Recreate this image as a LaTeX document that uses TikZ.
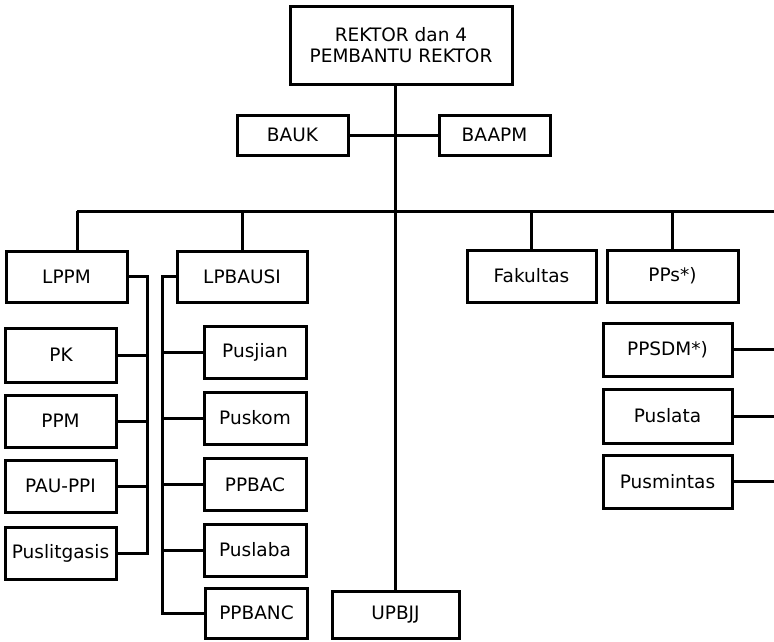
\documentclass[tikz,border=0pt]{standalone}
\usepackage{fontspec}
\setmainfont{DejaVu Sans}
\usepackage{tikz}
\usetikzlibrary{positioning,calc}

\begin{document}
\begin{tikzpicture}[x=1pt, y=-1pt, font=\fontsize{18.5}{21.5}\selectfont,
  line width=3pt,
  unit/.style={draw=black, fill=white, align=center, inner sep=2pt,
               minimum width=#1},
  unit/.default=110pt,
  row/.style={unit=111pt, minimum height=52pt},
  sub/.style={unit=102pt, minimum height=52pt}]
\useasboundingbox (0,0) rectangle (774,641);
% top
\node[unit=222pt, minimum height=78pt] (rektor) at (401,45) {REKTOR dan 4\\PEMBANTU REKTOR};
\node[unit=111pt, minimum height=40pt] (bauk) at (292.5,135) {BAUK};
\node[unit=111pt, minimum height=40pt] (baapm) at (494.5,135) {BAAPM};
% second level
\node[unit=121pt, minimum height=51pt] (lppm) at (66.5,276.5) {LPPM};
\node[unit=130pt, minimum height=51pt] (lpbausi) at (242,276.5) {LPBAUSI};
\node[unit=129pt, minimum height=52pt] (fakultas) at (531.5,276) {Fakultas};
\node[unit=131pt, minimum height=52pt] (pps) at (672.5,276) {PPs*)};
\node[unit=127pt, minimum height=47pt] (upbjj) at (395.5,614.5) {UPBJJ};
% under LPPM
\node[row, minimum height=54pt] (pk) at (61,355) {PK};
\node[row] (ppm) at (60.5,421) {PPM};
\node[row] (pauppi) at (60.5,486) {PAU-PPI};
\node[row] (puslitgasis) at (60.5,553) {Puslitgasis};
% under LPBAUSI
\node[sub] (pusjian) at (255,352.5) {Pusjian};
\node[sub] (puskom) at (255,418) {Puskom};
\node[sub] (ppbac) at (255,484.5) {PPBAC};
\node[sub] (puslaba) at (255,550) {Puslaba};
\node[sub, minimum height=50pt] (ppbanc) at (256.5,613) {PPBANC};
% right column
\node[unit=129pt, minimum height=53pt] (ppsdm) at (667.5,349.5) {PPSDM*)};
\node[unit=129pt, minimum height=54pt] (puslata) at (667.5,416) {Puslata};
\node[unit=129pt, minimum height=53pt] (pusmintas) at (667.5,481.5) {Pusmintas};
% bus lines
\coordinate (busL) at (77,211);
\coordinate (busR) at (774,211);
\coordinate (lppmR) at (147,276);
\coordinate (lpbL) at (162,276);
\draw (rektor.south -| upbjj.north) -- (upbjj.north);
\draw (bauk) -- (baapm);
\draw (busL) -- (busR);
\draw (busL) -- (lppm.north -| busL);
\foreach \n in {lpbausi,fakultas,pps}
  \draw (\n.north |- busL) -- (\n.north);
\draw (lppm.east) -- (lppm.east -| lppmR) -- (puslitgasis.east -| lppmR) -- (puslitgasis.east);
\foreach \n in {pk,ppm,pauppi}
  \draw (\n.east) -- (\n.east -| lppmR);
\draw (lpbausi.west) -- (lpbausi.west -| lpbL) -- (ppbanc.west -| lpbL) -- (ppbanc.west);
\foreach \n in {pusjian,puskom,ppbac,puslaba}
  \draw (\n.west) -- (\n.west -| lpbL);
\foreach \n in {ppsdm,puslata,pusmintas}
  \draw (\n.east) -- (\n.east -| busR);
\end{tikzpicture}
\end{document}
